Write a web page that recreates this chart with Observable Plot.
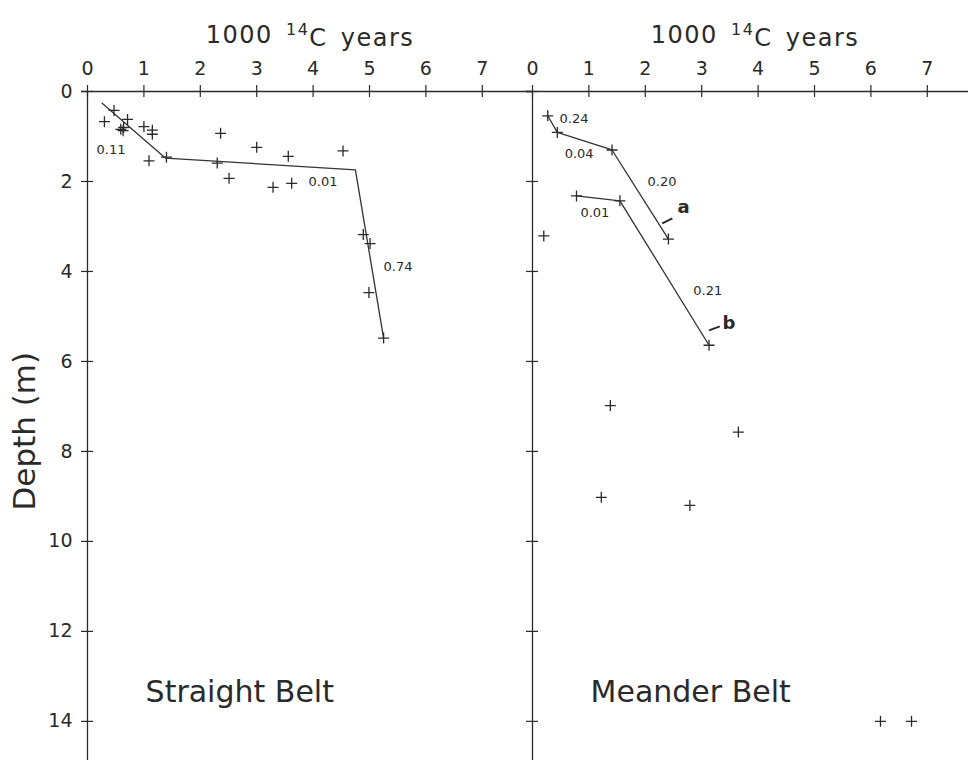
<!DOCTYPE html>
<html><head><meta charset="utf-8">
<script src="https://cdn.jsdelivr.net/npm/d3@7"></script>
<script src="https://cdn.jsdelivr.net/npm/@observablehq/plot@0.6"></script>
<style>
body{margin:0;background:#fff;overflow:hidden}
#chart svg{display:block}
</style>
</head><body><div id="chart"></div>
<script>
// ---- data (ages in 1000 14C years, depth in m) ----
const panels = ["Straight Belt", "Meander Belt"];
const xTicks = [0, 1, 2, 3, 4, 5, 6, 7];
const yTicks = [0, 2, 4, 6, 8, 10, 12, 14];

const straightAge   = [0.47, 0.30, 0.71, 0.59, 0.63, 0.64, 1.00, 1.15, 1.15, 2.36, 3.00, 3.56, 4.53, 1.40, 1.09, 2.30, 2.51, 3.29, 3.62, 4.89, 5.01, 4.99, 5.25];
const straightDepth = [0.42, 0.67, 0.62, 0.84, 0.87, 0.80, 0.78, 0.86, 0.95, 0.93, 1.24, 1.44, 1.32, 1.46, 1.54, 1.59, 1.93, 2.13, 2.04, 3.18, 3.38, 4.47, 5.48];

const meanderAge   = [0.27, 0.44, 1.41, 2.41, 0.78, 1.55, 3.13, 0.20, 1.38, 3.65, 1.22, 2.79, 6.17, 6.72];
const meanderDepth = [0.54, 0.91, 1.30, 3.28, 2.32, 2.43, 5.64, 3.21, 6.98, 7.57, 9.02, 9.20, 14.0, 14.0];

// fitted segments
const straightFitAge   = [0.26, 1.38, 4.75, 5.25];
const straightFitDepth = [0.26, 1.48, 1.74, 5.48];
const meanderAFitAge   = [0.27, 0.44, 1.41, 2.41];
const meanderAFitDepth = [0.54, 0.91, 1.30, 3.28];
const meanderBFitAge   = [0.78, 1.55, 3.13];
const meanderBFitDepth = [2.32, 2.43, 5.64];

// slope (accumulation-rate) annotations
const slopeText  = ["0.11", "0.01", "0.74", "0.24", "0.04", "0.20", "0.01", "0.21"];
const slopePanel = ["Straight Belt", "Straight Belt", "Straight Belt", "Meander Belt", "Meander Belt", "Meander Belt", "Meander Belt", "Meander Belt"];
const slopeAge   = [0.16, 3.92, 5.25, 0.48, 0.57, 2.04, 0.85, 2.85];
const slopeDepth = [1.40, 2.11, 3.98, 0.71, 1.47, 2.09, 2.78, 4.53];

// curve letters and their leader strokes
const curveName  = ["a", "b"];
const curveAge   = [2.57, 3.37];
const curveDepth = [2.71, 5.27];
const leaderAge1 = [2.30, 3.13];
const leaderDep1 = [2.93, 5.31];
const leaderAge2 = [2.48, 3.32];
const leaderDep2 = [2.82, 5.22];

// ---- build tables ----
const points = [
  ...straightAge.map((a, i) => ({panel: panels[0], age: a, depth: straightDepth[i]})),
  ...meanderAge.map((a, i) => ({panel: panels[1], age: a, depth: meanderDepth[i]}))
];
const fits = [
  ...straightFitAge.map((a, i) => ({panel: panels[0], seg: "s", age: a, depth: straightFitDepth[i]})),
  ...meanderAFitAge.map((a, i) => ({panel: panels[1], seg: "a", age: a, depth: meanderAFitDepth[i]})),
  ...meanderBFitAge.map((a, i) => ({panel: panels[1], seg: "b", age: a, depth: meanderBFitDepth[i]}))
];
const slopes = slopeText.map((t, i) => ({text: t, panel: slopePanel[i], age: slopeAge[i], depth: slopeDepth[i]}));
const curves = curveName.map((t, i) => ({text: t, panel: panels[1], age: curveAge[i], depth: curveDepth[i]}));
const leaders = curveName.map((t, i) => ({panel: panels[1], x1: leaderAge1[i], y1: leaderDep1[i], x2: leaderAge2[i], y2: leaderDep2[i]}));

const cross = {
  draw(ctx, size) {
    const r = Math.sqrt(size / Math.PI);
    ctx.moveTo(-r, 0); ctx.lineTo(r, 0);
    ctx.moveTo(0, -r); ctx.lineTo(0, r);
  }
};

const ink = "#2a2a2a";
const titleText = "1000 14C years";

const chart = Plot.plot({
  width: 968,
  height: 760,
  marginLeft: 87,
  marginRight: -9,
  marginTop: 91,
  marginBottom: 0,
  style: {fontFamily: "DejaVu Sans, sans-serif", background: "white", color: ink, maxWidth: "none"},
  fx: {domain: panels, padding: 0, axis: null},
  x: {domain: [0, 7.89]},
  y: {domain: [0, 14.87], reverse: true},
  marks: [
    Plot.ruleX([0], {stroke: ink, strokeWidth: 1.3}),
    Plot.ruleY([0], {stroke: ink, strokeWidth: 1.3, insetLeft: -6}),
    Plot.ruleX(xTicks, {x: d => d, y1: 0, y2: 0, insetTop: -6, insetBottom: -6, stroke: ink, strokeWidth: 1.2}),
    Plot.ruleY(yTicks, {y: d => d, x1: 0, x2: 0, insetLeft: -6, insetRight: -6, stroke: ink, strokeWidth: 1.2}),
    Plot.axisX({anchor: "top", ticks: xTicks, tickSize: 0, tickPadding: 17, fontSize: 19, label: null, tickFormat: d => String(d)}),
    Plot.axisY({anchor: "left", ticks: yTicks, tickSize: 0, tickPadding: 15, fontSize: 19, label: null, tickFormat: d => String(d)}),
    Plot.text(panels, {fx: d => d, text: () => titleText, frameAnchor: "top", dy: -49, lineAnchor: "bottom", fontSize: 24, fill: ink, className: "ctitle"}),
    Plot.text(["Depth (m)"], {fx: () => panels[0], x: 0, y: 7.55, text: d => d, rotate: -90, dx: -53, lineAnchor: "bottom", fontSize: 31, fill: ink}),
    Plot.text(panels, {fx: d => d, text: d => d, x: 1.03, y: 13.58, textAnchor: "start", lineAnchor: "bottom", fontSize: 30, fill: ink}),
    Plot.line(fits, {x: "age", y: "depth", fx: "panel", z: "seg", stroke: "#333", strokeWidth: 1.3}),
    Plot.dot(points, {x: "age", y: "depth", fx: "panel", symbol: cross, r: 5.5, fill: "none", stroke: ink, strokeWidth: 1.3}),
    Plot.text(slopes, {x: "age", y: "depth", fx: "panel", text: "text", textAnchor: "start", lineAnchor: "bottom", fontSize: 13, fill: ink}),
    Plot.text(curves, {x: "age", y: "depth", fx: "panel", text: "text", textAnchor: "start", lineAnchor: "bottom", fontSize: 18, fontWeight: "bold", fill: ink}),
    Plot.link(leaders, {x1: "x1", y1: "y1", x2: "x2", y2: "y2", fx: "panel", stroke: ink, strokeWidth: 2})
  ]
});

// render the "14" of the axis title as a real superscript
d3.select(chart).selectAll("g.ctitle text").each(function () {
  const t = d3.select(this);
  t.text(null).style("letter-spacing", "1.5px").style("word-spacing", "4px");
  t.append("tspan").text("1000 ");
  t.append("tspan").attr("font-size", 16).attr("dy", "-0.45em").text("14");
  t.append("tspan").attr("dy", "0.45em").text("C years");
});

document.getElementById("chart").append(chart);
</script>
</body></html>
